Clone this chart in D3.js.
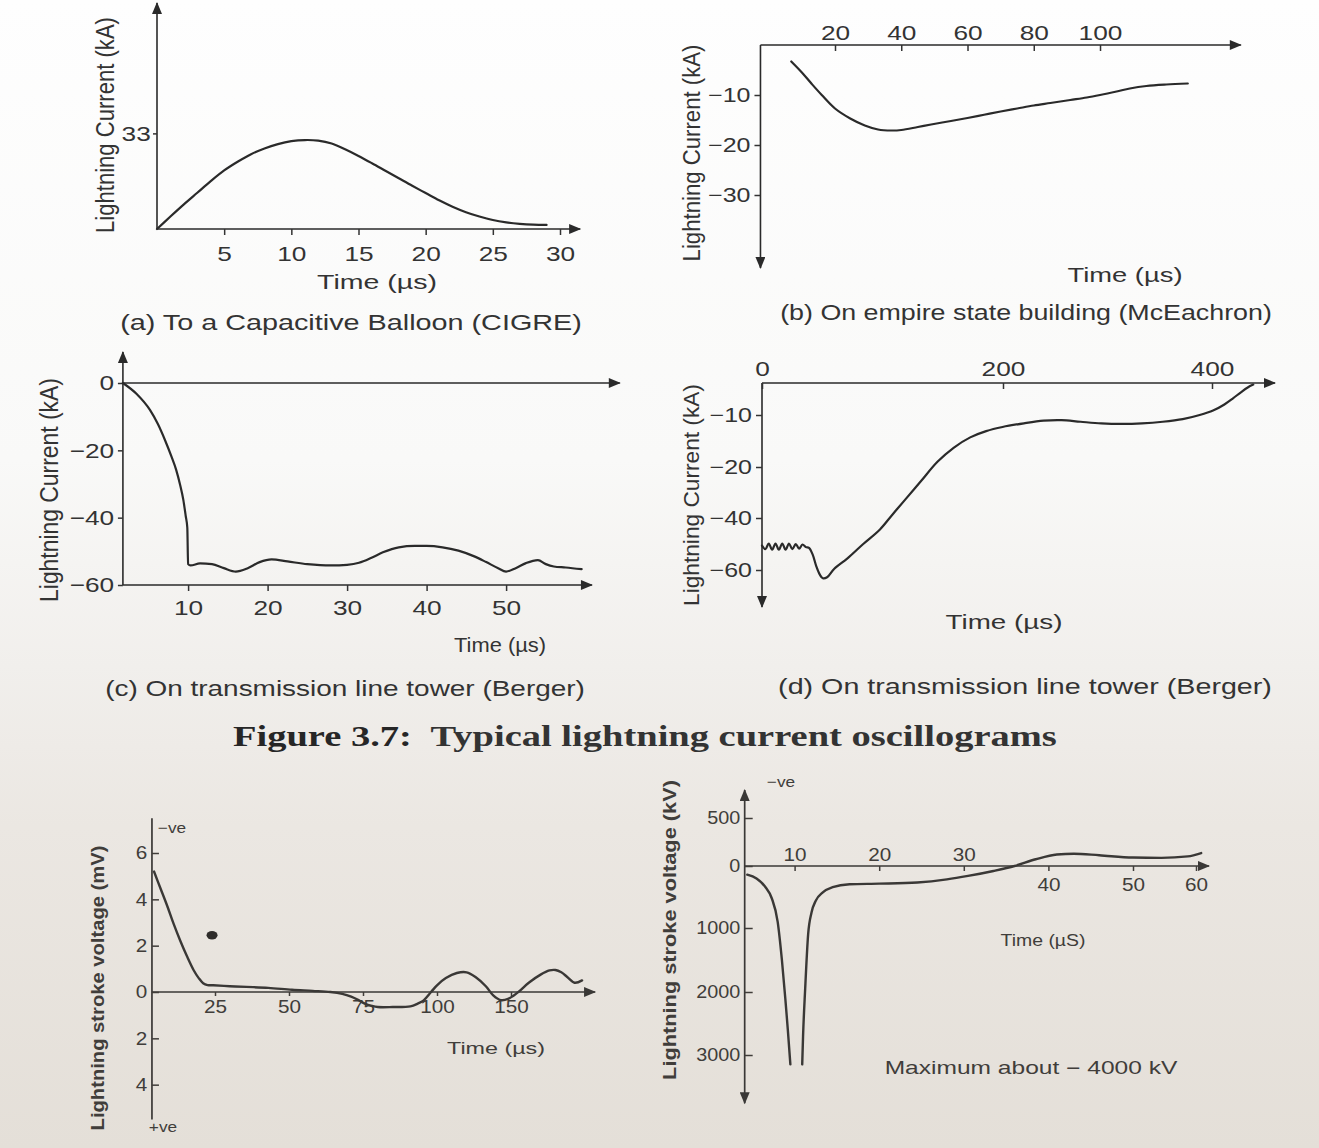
<!DOCTYPE html>
<html><head><meta charset="utf-8">
<script src="https://cdn.jsdelivr.net/npm/d3@7/dist/d3.min.js"></script>
<style>html,body{margin:0;padding:0;background:#fdfdfd;} svg{display:block;}</style>
</head><body>
<svg id="fig" width="1319" height="1148"></svg>
<script>
// ---------------- DATA ----------------
// (a) To a Capacitive Balloon (CIGRE)
const aTime = [0,1,2,3,4,5,6,7,8,9,10,11,12,13,14,15,16,17,18,19,20,21,22,23,24,25,26,27,28,29];
const aCurrent = [0,4.3,8.5,12.5,16.5,20.2,23.2,25.8,27.8,29.3,30.3,30.7,30.5,29.5,27.5,25.2,22.7,20.1,17.5,14.9,12.4,9.9,7.7,5.8,4.3,3.1,2.3,1.8,1.5,1.4];
const aXTicks = [5,10,15,20,25,30];
const aYTicks = [33];

// (b) On empire state building (McEachron)
const bTime = [6.8,10,13,16,20,24.6,29,33,37,40,45,49,55,60,65,70,75,80,85,91,96,100,105,109,114,120,126.5];
const bCurrent = [-3.3,-5.5,-7.8,-10,-12.7,-14.7,-16.1,-16.9,-17.1,-17,-16.4,-15.9,-15.2,-14.6,-13.95,-13.3,-12.7,-12.1,-11.6,-11,-10.5,-10,-9.3,-8.7,-8.2,-7.9,-7.7];
const bXTicks = [20,40,60,80,100];
const bYTicks = [-10,-20,-30];

// (c) On transmission line tower (Berger)
const cTime = [1.8,3.5,5.2,6.2,7.1,7.9,8.5,9.0,9.4,9.7,9.9,10.0,10.3,11.5,13,14.5,16,17.5,19,20.5,22.5,25,28,30,31.5,33,34.5,36.5,38.5,40,42,44,46,47.5,49,50,51.2,52.5,54,55,56,57.5,59.5];
const cCurrent = [0,-3.2,-8,-12.2,-17,-21.8,-25.8,-30.3,-34.7,-39.5,-43,-53.8,-54.2,-53.6,-53.8,-55,-56,-55,-53.2,-52.4,-53,-53.8,-54.2,-54,-53.4,-52,-50.3,-48.8,-48.4,-48.4,-48.8,-49.8,-51.5,-53.2,-55,-56,-55,-53.5,-52.6,-53.8,-54.5,-54.8,-55.3];
const cXTicks = [10,20,30,40,50];
const cYTicks = [0,-20,-40,-60];

// (d) On transmission line tower (Berger)
const dTime = [0,2.8,5.6,8.4,11.2,14,16.8,19.6,22.4,25.2,28,30.8,33.6,36.4,39,42,45,48,50.5,54,60,70.7,84,97.9,108,118.3,132,145.6,159,172.8,186,199.6,220,238.8,256,274.2,294,313.5,333,352.8,372,388.2,401,411.8,420,427.5,434,439.3];
const dCurrent = [-50.6,-52,-49.8,-52.2,-49.8,-52.2,-49.8,-52.2,-49.8,-52,-50,-51.8,-50.2,-51.2,-51.5,-54,-58.5,-61.8,-63.2,-62.8,-59.5,-55.6,-50,-44.4,-38.8,-33.1,-25.5,-19,-16.3,-14.3,-13.1,-12.3,-11.6,-11.1,-11.0,-11.3,-11.6,-11.7,-11.6,-11.3,-10.8,-10,-8.6,-6.7,-4.8,-2.9,-1.4,-0.5];
const dXTicks = [0,200,400];
const dYTicks = [-10,-20,-40,-60];

// (e) Lightning stroke voltage (mV)
const eTime = [4.4,6.5,8.9,11,13.3,15.5,17.8,19.5,21,22.5,24.4,30,35.6,43,51,58,64,68,71,73.5,75.6,78,80,85,91,93.5,95.5,98,100,103,106.7,110,113,116.5,119,121.5,124,127,131,135,138,140,142,144,146.5,149];
const eVoltage = [5.2,4.5,3.7,2.95,2.2,1.55,0.94,0.6,0.38,0.3,0.29,0.25,0.22,0.18,0.1,0.05,0,-0.08,-0.2,-0.35,-0.5,-0.6,-0.65,-0.65,-0.62,-0.5,-0.36,0,0.29,0.6,0.82,0.85,0.65,0.25,-0.15,-0.35,-0.3,-0.05,0.4,0.75,0.93,0.95,0.85,0.65,0.4,0.5];
const eXTicks = [25,50,75,100,125];
const eXTickLabels = ["25","50","75","100","150"];
const eYTicks = [6,4,2,0,-2,-4];
const eSmudge = [[24,2.45]];

// (f) Lightning stroke voltage (kV)
const fDropTime = [4.4,5.5,6.5,7.3,8.0,8.5,8.9,9.2,9.5];
const fDropVoltage = [-140,-200,-330,-520,-900,-1500,-2100,-2600,-3150];
const fRiseTime = [10.9,11.0,11.25,11.6,12.0,12.5,13.3,14.5,16.5,20,24.5,28,30.5,33.5,36,38.5,41,43,46,50,54.5,58.7,60.8];
const fRiseVoltage = [-3150,-2700,-1950,-1100,-750,-560,-430,-340,-295,-285,-265,-215,-160,-80,0,70,120,128,112,88,85,100,135];
const fXTicksUpper = [10,20,30];
const fXTicksLower = [40,50,60];
const fYTicks = [500,0,-1000,-2000,-3000];

// texts
const yLabelCurrent = "Lightning Current (kA)";
const timeLabel = "Time (\u00b5s)";
const timeLabelF = "Time (\u00b5S)";
const captionA = "(a) To a Capacitive Balloon (CIGRE)";
const captionB = "(b) On empire state building (McEachron)";
const captionC = "(c) On transmission line tower (Berger)";
const captionD = "(d) On transmission line tower (Berger)";
const titleLead = "Figure 3.7:";
const titleText = "Typical lightning current oscillograms";
const yLabelE = "Lightning stroke voltage (mV)";
const yLabelF = "Lightning stroke voltage (kV)";
const negLabel = "\u2212ve";
const posLabel = "+ve";
const maxNote = "Maximum about \u2212 4000 kV";

// ---------------- DRAWING ----------------
const SANS = "'Liberation Sans', Arial, Helvetica, sans-serif";
const SERIF = "'Liberation Serif', 'Times New Roman', serif";
const INK = "#2a2a2a", TEXT = "#333333";
const INK2 = "#3a3836", TEXT2 = "#403d3a";
const SX = 1.2, TSX = 1.25;

const svg = d3.select("#fig");
const defs = svg.append("defs");
const grad = defs.append("linearGradient").attr("id","paper").attr("x1",0).attr("y1",0).attr("x2",0).attr("y2",1);
[[0,"#fefefe"],[0.4,"#f9f9f8"],[0.58,"#f1efec"],[0.72,"#ebe7e2"],[1,"#e4dfd8"]].forEach(([o,c]) =>
  grad.append("stop").attr("offset",o).attr("stop-color",c));
svg.append("rect").attr("width",1319).attr("height",1148).attr("fill","url(#paper)");

function mkMarker(id, color) {
  defs.append("marker").attr("id",id).attr("viewBox","0 0 12 10").attr("refX",11).attr("refY",5)
    .attr("markerWidth",13).attr("markerHeight",10).attr("markerUnits","userSpaceOnUse")
    .attr("orient","auto-start-reverse")
    .append("path").attr("d","M0,0L12,5L0,10Z").attr("fill",color);
}
mkMarker("arr", INK); mkMarker("arr2", INK2);

function txt(g, str, x, y, o = {}) {
  const t = g.append("text").attr("font-family", o.family || SANS).attr("font-size", o.size || 20)
    .attr("font-weight", o.weight || "normal").attr("fill", o.fill || TEXT)
    .attr("text-anchor", o.anchor || "middle").text(str);
  let s = o.sx || SX;
  if (o.w) s = o.w / t.node().getComputedTextLength();
  t.attr("transform", o.rot
    ? `translate(${x},${y}) rotate(-90) scale(${s},${o.sy || SX})`
    : `translate(${x},${y}) scale(${s},${o.sy || 1})`);
  return t;
}
function arrowLine(g, x1, y1, x2, y2, o = {}) {
  const l = g.append("line").attr("x1",x1).attr("y1",y1).attr("x2",x2).attr("y2",y2)
    .attr("stroke", o.color || INK).attr("stroke-width", o.width || 1.6);
  const m = o.marker || "arr";
  if (o.end !== false) l.attr("marker-end", `url(#${m})`);
  if (o.start) l.attr("marker-start", `url(#${m})`);
  return l;
}
function styleAxis(sel, size, sx, color) {
  sel.select(".domain").remove();
  sel.attr("font-family", SANS).attr("font-size", size).attr("color", color);
  sel.selectAll(".tick line").attr("stroke-width", 1.5);
  sel.selectAll(".tick text").attr("transform", `scale(${sx},1)`);
}
const smooth = d3.curveCatmullRom.alpha(0.5);
function series(g, times, values, xs, ys, o = {}) {
  const line = d3.line().x((d,i) => xs(times[i])).y(d => ys(d)).curve(o.curve || smooth);
  g.append("path").datum(values).attr("d", line).attr("fill","none")
    .attr("stroke", o.color || INK).attr("stroke-width", o.width || 2.2)
    .attr("stroke-linejoin","round").attr("stroke-linecap","round");
}
const fmtMinus = d => d < 0 ? "\u2212" + Math.abs(d) : String(d);

// ===== Panel (a) =====
{
  const g = svg.append("g");
  const x = d3.scaleLinear([0,30],[157,560]);
  const y = d3.scaleLinear([0,78],[229,3]);
  arrowLine(g, x(0), y(0), x(0), y(78));
  arrowLine(g, x(0), y(0), x(31.5), y(0));
  g.append("g").attr("transform",`translate(0,${y(0)})`)
    .call(d3.axisBottom(x).tickValues(aXTicks).tickSize(6).tickPadding(11).tickSizeOuter(0))
    .call(s => styleAxis(s, 21, TSX, TEXT));
  g.append("g").attr("transform",`translate(${x(0)},0)`)
    .call(d3.axisLeft(y).tickValues(aYTicks).tickSize(4).tickPadding(1).tickSizeOuter(0))
    .call(s => styleAxis(s, 21, TSX, TEXT));
  series(g, aTime, aCurrent, x, y);
  txt(g, yLabelCurrent, 114, 125, {rot:true, size:21, w:216});
  txt(g, timeLabel, 377, 289, {size:21, w:120});
  txt(g, captionA, 351, 330, {size:22, w:462});
}

// ===== Panel (b) =====
{
  const g = svg.append("g");
  const x = d3.scaleLinear([0,130],[768.75,1199.4]);
  const y = d3.scaleLinear([0,-30],[45,195]);
  arrowLine(g, x(-2.5), y(0), x(142.5), y(0));
  arrowLine(g, x(-2.5), y(0), x(-2.5), y(-44.6));
  g.append("g").attr("transform",`translate(0,${y(0)})`)
    .call(d3.axisTop(x).tickValues(bXTicks).tickSize(-6).tickPadding(5).tickSizeOuter(0))
    .call(s => styleAxis(s, 21, TSX, TEXT));
  g.append("g").attr("transform",`translate(${x(-2.5)},0)`)
    .call(d3.axisLeft(y).tickValues(bYTicks).tickFormat(fmtMinus).tickSize(6).tickPadding(2).tickSizeOuter(0))
    .call(s => styleAxis(s, 20, TSX, TEXT));
  series(g, bTime, bCurrent, x, y);
  txt(g, yLabelCurrent, 700, 153, {rot:true, size:21, w:217, sy:1.1});
  txt(g, timeLabel, 1125, 282, {size:21, w:115});
  txt(g, captionB, 1026, 320, {size:22, w:492});
}

// ===== Panel (c) =====
{
  const g = svg.append("g");
  const x = d3.scaleLinear([0,60],[108.6,585.6]);
  const y = d3.scaleLinear([0,-60],[383,585]);
  const x0 = x(1.8);
  arrowLine(g, x0, y(-60), x0, y(9.2));
  arrowLine(g, x0, y(0), x(64.3), y(0));
  arrowLine(g, x0, y(-60), x(60.8), y(-60));
  g.append("g").attr("transform",`translate(0,${y(-60)})`)
    .call(d3.axisBottom(x).tickValues(cXTicks).tickSize(6).tickPadding(9).tickSizeOuter(0))
    .call(s => styleAxis(s, 21, TSX, TEXT));
  g.append("g").attr("transform",`translate(${x0},0)`)
    .call(d3.axisLeft(y).tickValues(cYTicks).tickFormat(fmtMinus).tickSize(5).tickPadding(2).tickSizeOuter(0))
    .call(s => styleAxis(s, 21, TSX, TEXT));
  series(g, cTime, cCurrent, x, y, {curve: d3.curveMonotoneX});
  txt(g, yLabelCurrent, 58, 490, {rot:true, size:21, w:224});
  txt(g, timeLabel, 500, 652, {size:21, w:92});
  txt(g, captionC, 345, 696, {size:22, w:480});
}

// ===== Panel (d) =====
{
  const g = svg.append("g");
  const x = d3.scaleLinear([0,200,400,460],[762,1003,1212,1275]);
  const y = d3.scaleLinear([0,-10,-20,-40,-60,-80],[383,415,467,518,570,622]);
  arrowLine(g, x(0), y(0), x(460), y(0));
  arrowLine(g, x(0), y(0), x(0), y(-74.2));
  g.append("g").attr("transform",`translate(0,${y(0)})`)
    .call(d3.axisTop(x).tickValues(dXTicks).tickSize(-6).tickPadding(7).tickSizeOuter(0))
    .call(s => styleAxis(s, 21, TSX, TEXT));
  g.append("g").attr("transform",`translate(${x(0)},0)`)
    .call(d3.axisLeft(y).tickValues(dYTicks).tickFormat(fmtMinus).tickSize(6).tickPadding(2).tickSizeOuter(0))
    .call(s => styleAxis(s, 20, TSX, TEXT));
  series(g, dTime, dCurrent, x, y);
  txt(g, yLabelCurrent, 699, 495, {rot:true, size:21, w:222, sy:1.05});
  txt(g, timeLabel, 1004, 629, {size:21, w:117});
  txt(g, captionD, 1025, 694, {size:22, w:494});
}

// ===== Title =====
{
  const t = svg.append("text").attr("font-family", SERIF).attr("font-size", 29).attr("fill", "#262626");
  t.append("tspan").attr("font-weight","bold").text(titleLead);
  t.append("tspan").attr("dx", 14).attr("font-weight","bold").attr("fill","#333").text(titleText);
  const L = t.node().getComputedTextLength() + 14;
  t.attr("transform", `translate(233,746) scale(${824 / L},1)`);
}

// ===== Panel (e) =====
{
  const g = svg.append("g");
  const x = d3.scaleLinear([0,150],[141,585]);
  const y = d3.scaleLinear([0,6],[992,853]);
  const x0 = x(3.7);
  arrowLine(g, x0, y(7.5), x0, y(-5.5), {end:false, color:INK2, width:1.7});
  arrowLine(g, x0, y(0), x(153.4), y(0), {marker:"arr2", color:INK2, width:1.7});
  g.append("g").attr("transform",`translate(0,${y(0)})`)
    .call(d3.axisBottom(x).tickValues(eXTicks).tickFormat((d,i) => eXTickLabels[i]).tickSize(4).tickPadding(4).tickSizeOuter(0))
    .call(s => styleAxis(s, 18, 1.15, TEXT2));
  g.append("g").attr("transform",`translate(${x0},0)`)
    .call(d3.axisLeft(y).tickValues(eYTicks).tickFormat(d => Math.abs(d)).tickSize(-7).tickPadding(4).tickSizeOuter(0))
    .call(s => styleAxis(s, 18, 1.15, TEXT2));
  series(g, eTime, eVoltage, x, y, {color:INK2, width:2.4});
  g.selectAll("ellipse.smudge").data(eSmudge).join("ellipse").attr("class","smudge")
    .attr("cx", d => x(d[0])).attr("cy", d => y(d[1])).attr("rx", 5.5).attr("ry", 4.2).attr("fill", "#2e2c2a");
  txt(g, negLabel, 172, 833, {size:15, fill:TEXT2, sx:1.15});
  txt(g, posLabel, 163, 1132, {size:15, fill:TEXT2, sx:1.15});
  txt(g, yLabelE, 104, 988, {rot:true, size:19, w:285, sy:1.0, fill:TEXT2, weight:"bold"});
  txt(g, timeLabel, 496, 1054, {size:17, w:98, fill:TEXT2});
}

// ===== Panel (f) =====
{
  const g = svg.append("g");
  const x = d3.scaleLinear([0,50,60,62],[710,1133,1196,1209]);
  const y = d3.scaleLinear([800,500,0,-1000,-2000,-3000,-3800],[789,818,866,928,992,1055,1105]);
  const x0 = x(4.1);
  arrowLine(g, x0, y(790), x0, y(-3770), {start:true, marker:"arr2", color:INK2, width:1.7});
  arrowLine(g, x0, y(0), x(62), y(0), {marker:"arr2", color:INK2, width:1.7});
  g.append("g").attr("transform",`translate(0,${y(0)})`)
    .call(d3.axisTop(x).tickValues(fXTicksUpper).tickSize(-5).tickPadding(5).tickSizeOuter(0))
    .call(s => styleAxis(s, 18, 1.15, TEXT2));
  g.append("g").attr("transform",`translate(0,${y(0)})`)
    .call(d3.axisBottom(x).tickValues(fXTicksLower).tickSize(5).tickPadding(7).tickSizeOuter(0))
    .call(s => styleAxis(s, 18, 1.15, TEXT2));
  g.append("g").attr("transform",`translate(${x0},0)`)
    .call(d3.axisLeft(y).tickValues(fYTicks).tickFormat(d => Math.abs(d)).tickSize(-8).tickPadding(4).tickSizeOuter(0))
    .call(s => styleAxis(s, 18, 1.1, TEXT2));
  series(g, fDropTime, fDropVoltage, x, y, {color:INK2, width:2.4, curve: d3.curveMonotoneX});
  series(g, fRiseTime, fRiseVoltage, x, y, {color:INK2, width:2.4, curve: d3.curveMonotoneX});
  txt(g, negLabel, 781, 787, {size:15, fill:TEXT2, sx:1.15});
  txt(g, yLabelF, 676, 930, {rot:true, size:19, w:300, sy:1.0, fill:TEXT2, weight:"bold"});
  txt(g, timeLabelF, 1043, 946, {size:17, w:85, fill:TEXT2});
  txt(g, maxNote, 1031, 1074, {size:18, w:293, fill:TEXT2});
}
</script>
</body></html>
